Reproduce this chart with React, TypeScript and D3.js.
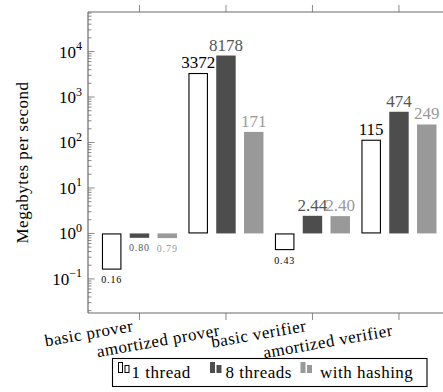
import * as d3 from 'd3';

const WIDTH = 443;
const HEIGHT = 392;
const FONT = "'Liberation Serif'";

const categories = ['basic prover', 'amortized prover', 'basic verifier', 'amortized verifier'];
const seriesNames = ['1 thread', '8 threads', 'with hashing'];
const oneThread = [0.16, 3372, 0.43, 115];
const eightThreads = [0.8, 8178, 2.44, 474];
const withHashing = [0.79, 171, 2.4, 249];
const yTickExponents = [-1, 0, 1, 2, 3, 4];

const seriesValues = [oneThread, eightThreads, withHashing];
const seriesFill = ['#ffffff', '#4d4d4d', '#999999'];
const seriesStroke = ['#000000', 'none', 'none'];
const labelColor = ['#000000', '#555555', '#999999'];

// plot frame
const LEFT = 88;
const TOP = 12;
const BOTTOM = 313;
const AXIS = '#6b6b6b';
const GROUP_STEP = 86.5;

const x = d3
  .scaleLinear()
  .domain([-0.595, categories.length - 0.405])
  .range([LEFT, LEFT + GROUP_STEP * (categories.length - 1 + 1.19)]);
const inner = d3
  .scaleBand<number>()
  .domain(seriesNames.map((_, i) => i))
  .range([-37.5, 37.5])
  .paddingInner(0.3)
  .paddingOuter(0);
const y = d3
  .scaleLog()
  .domain([Math.pow(10, -1.75), Math.pow(10, 4.87)])
  .range([BOTTOM, TOP]);

const fmt = (v: number) => (v >= 10 ? d3.format('d')(v) : d3.format('.2f')(v));

function logTicks() {
  const [lo, hi] = y.domain();
  const out: { v: number; major: boolean }[] = [];
  for (let e = Math.floor(Math.log10(lo)); e <= Math.ceil(Math.log10(hi)); e++) {
    for (let m = 1; m <= 9; m++) {
      const v = m * Math.pow(10, e);
      if (v >= lo && v <= hi) out.push({ v, major: m === 1 });
    }
  }
  return out;
}

export default function App() {
  document.body.style.margin = '0';
  const right = x.range()[1];
  const bw = inner.bandwidth();
  const txt = (size: number, spacing = 0) => ({ fontFamily: FONT, fontSize: size, letterSpacing: spacing });

  return (
    <svg width={WIDTH} height={HEIGHT} style={{ display: 'block', fontFamily: FONT }}>
      <rect width={WIDTH} height={HEIGHT} fill="#fff" />

      {/* bars + value labels */}
      {seriesValues.map((vals, s) =>
        vals.map((v, c) => {
          const x0 = x(c) + (inner(s) as number);
          const y1 = y(1);
          const yv = y(v);
          const stroked = seriesStroke[s] !== 'none';
          const small = v < 1;
          return (
            <g key={`${s}-${c}`}>
              <rect
                x={stroked ? x0 + 0.5 : x0}
                y={Math.min(y1, yv) + (stroked ? 0.5 : 0)}
                width={stroked ? bw - 1 : bw}
                height={Math.abs(yv - y1) - (stroked ? 1 : 0)}
                fill={seriesFill[s]}
                stroke={seriesStroke[s]}
                strokeWidth={1.1}
              />
              <text
                x={x0 + bw / 2}
                y={small ? yv + 13.5 : yv - 5}
                textAnchor="middle"
                fill={labelColor[s]}
                style={small ? txt(10, 0.9) : txt(17)}
              >
                {fmt(v)}
              </text>
            </g>
          );
        }),
      )}

      {/* frame */}
      <line x1={LEFT} x2={right} y1={TOP} y2={TOP} stroke={AXIS} strokeWidth={1.2} />
      <line x1={LEFT} x2={right} y1={BOTTOM} y2={BOTTOM} stroke={AXIS} strokeWidth={1.2} />
      <line x1={LEFT} x2={LEFT} y1={TOP} y2={BOTTOM} stroke={AXIS} strokeWidth={1.2} />

      {/* y ticks */}
      {logTicks().map(({ v, major }) => (
        <line
          key={v}
          x1={LEFT}
          x2={LEFT + (major ? 6.5 : 3.5)}
          y1={y(v)}
          y2={y(v)}
          stroke={AXIS}
          strokeWidth={0.8}
        />
      ))}
      {yTickExponents.map((e) => (
        <text key={e} x={82} y={y(Math.pow(10, e)) + 6} textAnchor="end" fill="#000" style={txt(17)}>
          <tspan>10</tspan>
          <tspan dy={-7.5} style={txt(12)}>
            {e < 0 ? '\u2212' + Math.abs(e) : String(e)}
          </tspan>
        </text>
      ))}
      <text
        transform={`translate(28, ${(TOP + BOTTOM) / 2}) rotate(-90)`}
        textAnchor="middle"
        fill="#000"
        style={txt(17, 0.5)}
      >
        Megabytes per second
      </text>

      {/* x ticks + labels */}
      {categories.map((cat, i) => {
        const cx = x(i);
        return (
          <g key={cat}>
            <line x1={cx} x2={cx} y1={TOP - 7} y2={TOP} stroke={AXIS} strokeWidth={0.8} />
            <line x1={cx} x2={cx} y1={BOTTOM} y2={BOTTOM + 7} stroke={AXIS} strokeWidth={0.8} />
            <text
              transform={`translate(${cx - 5.5}, ${331 + (i % 2) * 4.5}) rotate(-10)`}
              textAnchor="end"
              fill="#000"
              style={txt(17, 0.5)}
            >
              {cat}
            </text>
          </g>
        );
      })}

      {/* legend */}
      <rect x={112.5} y={358.5} width={314.5} height={28} fill="#fff" stroke="#000" strokeWidth={1.1} />
      {seriesNames.map((name, s) => {
        const iconX = [118, 210, 300.5][s];
        const textX = [131.5, 225.5, 320][s];
        const stroked = seriesStroke[s] !== 'none';
        return (
          <g key={name}>
            {[
              [0, 362, 11],
              [6.5, 365, 8],
            ].map(([dx, top, h]) => (
              <rect
                key={dx}
                x={iconX + dx + (stroked ? 0.5 : 0)}
                y={top + (stroked ? 0.5 : 0)}
                width={stroked ? 4 : 5}
                height={stroked ? h - 1 : h}
                fill={seriesFill[s]}
                stroke={seriesStroke[s]}
                strokeWidth={1}
              />
            ))}
            <text x={textX} y={377.5} fill="#000" style={txt(17, 0.5)}>
              {name}
            </text>
          </g>
        );
      })}
    </svg>
  );
}
